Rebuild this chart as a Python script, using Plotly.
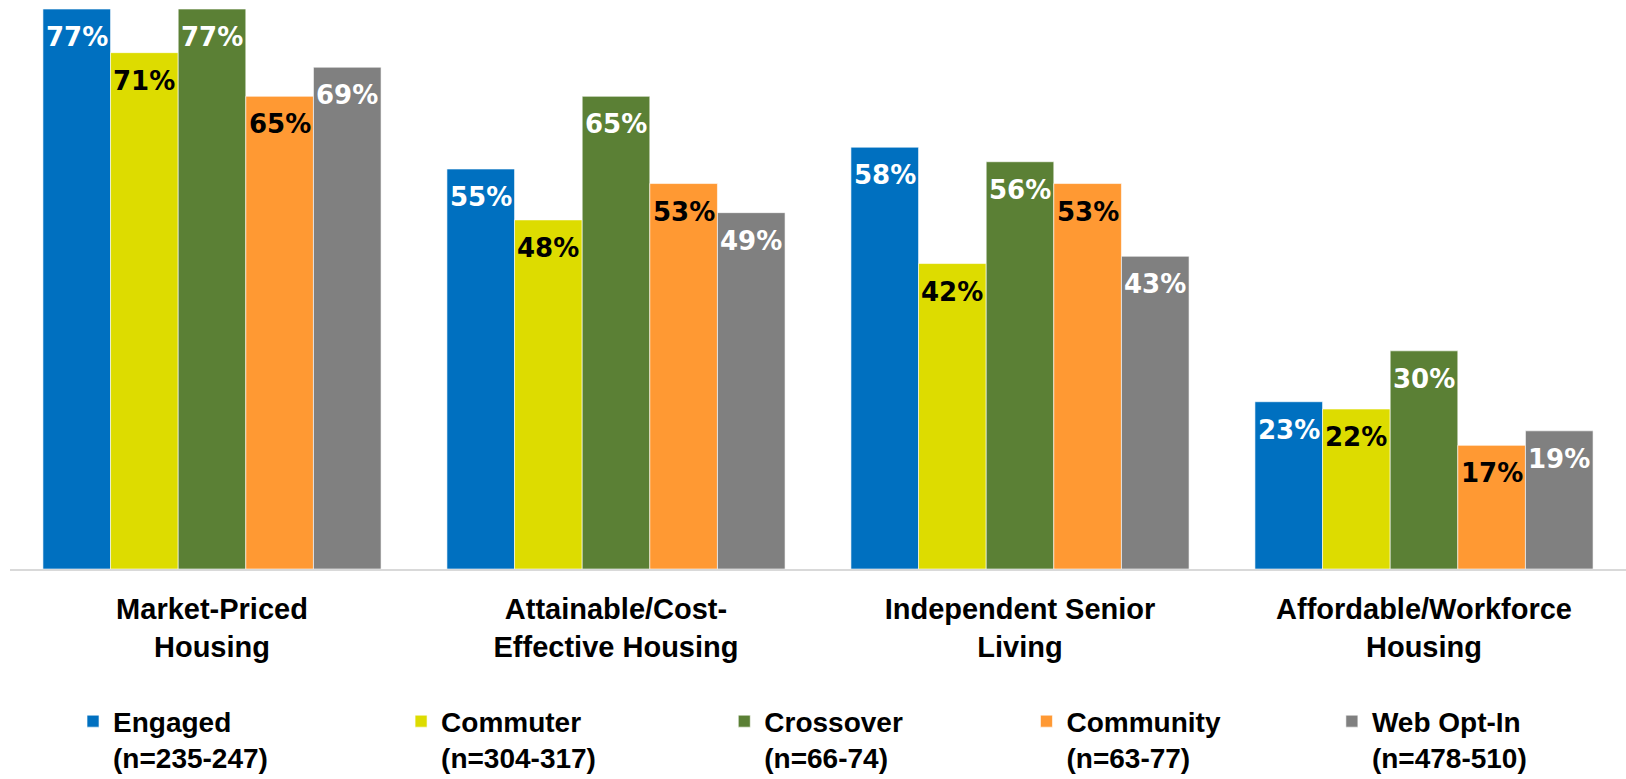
import plotly.graph_objects as go

categories = ["Market-Priced<br>Housing", "Attainable/Cost-<br>Effective Housing",
              "Independent Senior<br>Living", "Affordable/Workforce<br>Housing"]
series_names = ["Engaged<br>(n=235-247)", "Commuter<br>(n=304-317)", "Crossover<br>(n=66-74)",
                "Community<br>(n=63-77)", "Web Opt-In<br>(n=478-510)"]
engaged = [77, 55, 58, 23]
commuter = [71, 48, 42, 22]
crossover = [77, 65, 56, 30]
community = [65, 53, 53, 17]
web_optin = [69, 49, 43, 19]

values = [engaged, commuter, crossover, community, web_optin]
colors = ["#0070C0", "#DDDC00", "#5B8035", "#FF9933", "#808080"]
text_colors = ["white", "black", "white", "black", "white"]
legend_x = [0.039, 0.242, 0.442, 0.629, 0.818]

BARGAP = 0.163
LABEL_FONT = "Liberation Sans, Arial, sans-serif"

fig = go.Figure()
n = len(values)
w = (1 - BARGAP) / n
annotations = []
for j, (name, vals, col, tc) in enumerate(zip(series_names, values, colors, text_colors)):
    leg = "legend" if j == 0 else f"legend{j+1}"
    fig.add_trace(go.Bar(
        x=list(range(len(categories))), y=vals, name=name,
        marker=dict(color=col, line=dict(color="rgba(255,255,255,0.6)", width=1)),
        legend=leg, hoverinfo="skip",
    ))
    for i, v in enumerate(vals):
        annotations.append(dict(
            x=i + (j - (n - 1) / 2) * w, y=v, xref="x", yref="y",
            text=f"{v}%", showarrow=False, yshift=-28, yanchor="middle",
            font=dict(family="DejaVu Sans", size=26, color=tc, weight="bold"),
        ))

legends = {}
for j, lx in enumerate(legend_x):
    key = "legend" if j == 0 else f"legend{j+1}"
    legends[key] = dict(
        x=lx, y=-0.224, xanchor="left", yanchor="top", orientation="h",
        valign="top", bgcolor="rgba(0,0,0,0)",
        font=dict(family=LABEL_FONT, size=28, color="black", weight="bold"),
        itemclick=False, itemdoubleclick=False,
        tracegroupgap=0, itemwidth=30,
    )

fig.update_layout(
    width=1626, height=779,
    margin=dict(l=10, r=0, t=0, b=210, autoexpand=False),
    paper_bgcolor="white", plot_bgcolor="white",
    barmode="group", bargap=BARGAP, bargroupgap=0,
    showlegend=True,
    annotations=annotations,
    **legends,
)
fig.update_xaxes(
    tickmode="array", tickvals=list(range(len(categories))), ticktext=categories,
    range=[-0.5, len(categories) - 0.5], automargin=False,
    showline=True, linecolor="#D9D9D9", linewidth=2,
    showgrid=False, zeroline=False, ticks="outside", ticklen=0,
    ticklabelstandoff=13,
    tickfont=dict(family=LABEL_FONT, size=29, color="black", weight="bold"),
)
fig.update_yaxes(range=[0, 78.24], visible=False, showgrid=False, zeroline=False)

fig.write_html("out.html")
